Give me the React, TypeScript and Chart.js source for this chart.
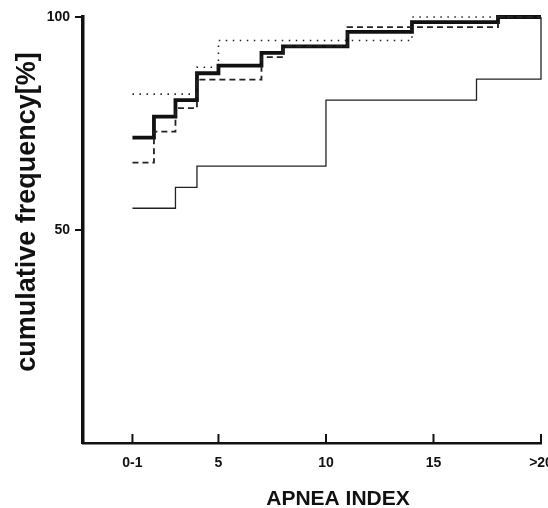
import React, { useEffect, useRef } from "react";
import { Chart, registerables } from "chart.js";

Chart.register(...registerables);

// Apnea index step positions and cumulative frequency [%]
const thickX = [1, 2, 3, 4, 5, 7, 8, 11, 14, 18, 20];
const thickY = [71.7, 76.6, 80.5, 86.8, 88.6, 91.6, 93.1, 96.5, 98.8, 100, 100];

const dashedX = [1, 2, 3, 4, 7, 8, 11, 18, 20];
const dashedY = [65.8, 73.1, 78.6, 85.3, 90.6, 93.1, 97.6, 100, 100];

const dottedX = [1, 4, 5, 14, 20];
const dottedY = [81.9, 88.2, 94.5, 100, 100];

const thinX = [1, 3, 4, 10, 17, 20];
const thinY = [55.1, 60, 65, 80.5, 85.4, 100];

const xTickValues = [1, 5, 10, 15, 20];
const xTickLabels = ["0-1", "5", "10", "15", ">20"];
const yTickValues = [50, 100];

const xTitle = "APNEA INDEX";
const yTitle = "cumulative frequency[%]";

const FONT = "'Liberation Sans', Arial, sans-serif";

function pts(xs: number[], ys: number[]) {
  return xs.map((x, i) => ({ x, y: ys[i] }));
}

const customPlugin = {
  id: "custom",
  afterDraw(chart: any) {
    const ctx = chart.ctx;
    const xs = chart.scales.x;
    const area = chart.chartArea;
    ctx.save();
    // inward x ticks
    ctx.strokeStyle = "#111";
    ctx.lineWidth = 2;
    xTickValues.forEach((v) => {
      const px = xs.getPixelForValue(v);
      ctx.beginPath();
      ctx.moveTo(px, area.bottom);
      ctx.lineTo(px, area.bottom - 9);
      ctx.stroke();
    });
    // titles
    ctx.fillStyle = "#111";
    ctx.font = `bold 21px ${FONT}`;
    ctx.textAlign = "center";
    ctx.textBaseline = "alphabetic";
    ctx.fillText(xTitle, 338, 505);
    ctx.translate(35, 212);
    ctx.rotate(-Math.PI / 2);
    ctx.font = `bold 27px ${FONT}`;
    ctx.fillText(yTitle, 0, 0);
    ctx.restore();
  },
};

export default function App() {
  const ref = useRef<HTMLCanvasElement | null>(null);
  useEffect(() => {
    document.body.style.margin = "0";
    const common = { pointRadius: 0, stepped: "before" as const, fill: false, clip: false as any };
    const chart = new Chart(ref.current!, {
      type: "line",
      data: {
        datasets: [
          { ...common, data: pts(thinX, thinY), borderColor: "#222", borderWidth: 1.3 },
          { ...common, data: pts(dottedX, dottedY), borderColor: "#222", borderWidth: 1.6, borderDash: [1.5, 5.5] },
          { ...common, data: pts(dashedX, dashedY), borderColor: "#222", borderWidth: 1.8, borderDash: [6, 4] },
          { ...common, data: pts(thickX, thickY), borderColor: "#111", borderWidth: 3.8 },
        ],
      },
      options: {
        animation: false,
        responsive: false,
        maintainAspectRatio: false,
        layout: { padding: { left: 0, top: 17, right: 7, bottom: 0 } },
        plugins: { legend: { display: false }, tooltip: { enabled: false } },
        scales: {
          x: {
            type: "linear",
            min: -1.3,
            max: 20,
            afterBuildTicks: (s: any) => {
              s.ticks = xTickValues.map((v) => ({ value: v }));
            },
            afterFit: (s: any) => {
              s.height = 65;
              s.paddingLeft = 0;
              s.paddingRight = 0;
            },
            ticks: {
              color: "#111",
              font: { family: FONT, size: 14, weight: "bold" },
              padding: 12,
              maxRotation: 0,
              autoSkip: false,
              callback: (v: any) => {
                const i = xTickValues.indexOf(Number(v));
                return i >= 0 ? xTickLabels[i] : "";
              },
            },
            grid: { display: false, drawOnChartArea: false, drawTicks: false },
            border: { display: true, color: "#111", width: 2.5 },
          },
          y: {
            type: "linear",
            min: 0,
            max: 100,
            afterBuildTicks: (s: any) => {
              s.ticks = yTickValues.map((v) => ({ value: v }));
            },
            afterFit: (s: any) => {
              s.width = 83;
              s.paddingTop = 0;
              s.paddingBottom = 0;
            },
            ticks: {
              color: "#111",
              font: { family: FONT, size: 14, weight: "bold" },
              padding: 5,
            },
            grid: { drawOnChartArea: false, drawTicks: true, tickLength: 8, color: "#111", lineWidth: 2 },
            border: { display: true, color: "#111", width: 3.5 },
          },
        },
      },
      plugins: [customPlugin],
    });
    return () => chart.destroy();
  }, []);
  return (
    <div style={{ width: 548, height: 508, background: "#fff" }}>
      <canvas ref={ref} width={548} height={508} style={{ display: "block" }} />
    </div>
  );
}
